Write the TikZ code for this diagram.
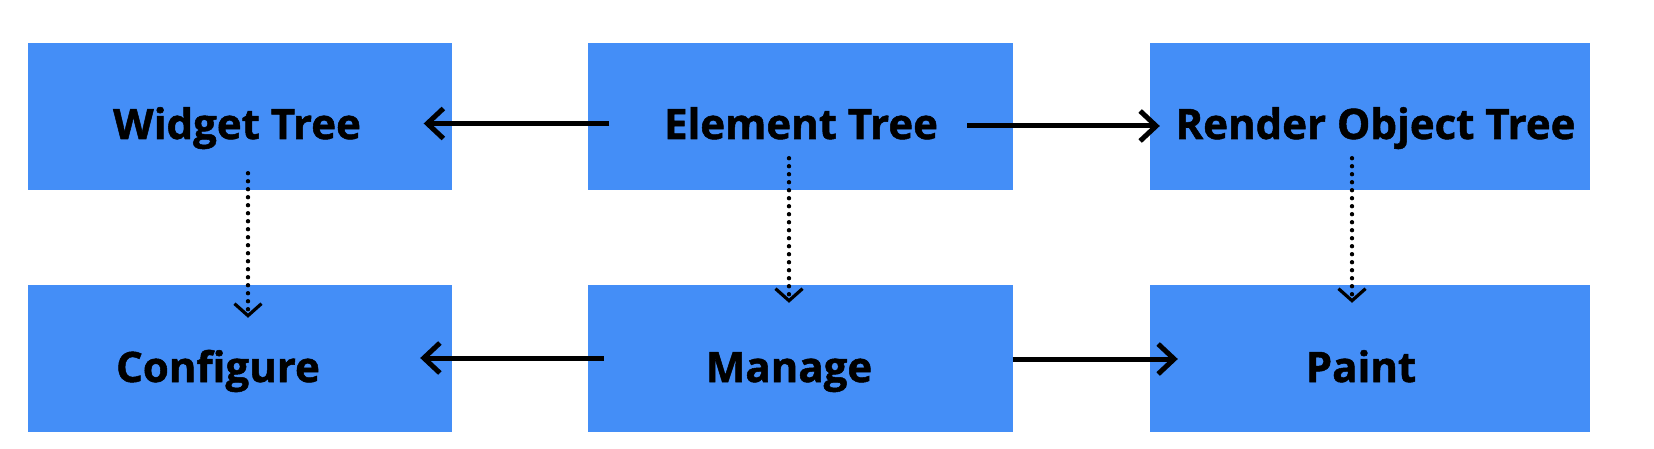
\documentclass[tikz,border=0pt]{standalone}
\usepackage{fontspec}
\newfontfamily\lblfont{Open Sans}[BoldFeatures={FakeBold=1.2}]
\usetikzlibrary{arrows.meta,calc}
\definecolor{boxblue}{HTML}{448EF7}
\begin{document}
\begin{tikzpicture}[x=1pt,y=-1pt,
  box/.style={fill=boxblue, draw=none, minimum width=#1, minimum height=147pt, inner sep=0pt},
  lbl/.style={font=\lblfont\bfseries\fontsize{42}{50}\selectfont, anchor=base, inner sep=0pt},
  flow/.style={line width=5pt, -{Straight Barb[length=16pt,width=30pt,line width=5pt]}},
  dep/.style={line width=4.4pt, line cap=round, dash pattern=on 0pt off 8pt, -{Straight Barb[length=12pt,width=27pt,line width=3.2pt]}}]
\useasboundingbox (0,0) rectangle (1654,449);
% boxes
\node[box=424pt] (wbox) at (239.5,116.5) {};
\node[box=425pt] (ebox) at (800,116.5) {};
\node[box=440pt] (rbox) at (1370,116.5) {};
\node[box=424pt] (cbox) at (239.5,358) {};
\node[box=425pt] (mbox) at (800,358) {};
\node[box=440pt] (pbox) at (1370,358) {};
% labels
\node[lbl] (wt) at (237,139) {Widget Tree};
\node[lbl] (et) at (801,139) {Element Tree};
\node[lbl] (rt) at (1375.5,139) {Render Object Tree};
\node[lbl] (ct) at (218,382) {Configure};
\node[lbl] (mt) at (789,382) {Manage};
\node[lbl] (pt) at (1361,382) {Paint};
% flow arrows
\draw[flow] ($(ebox.west)+(22,7)$) -- ($(wbox.east)+(-28,7)$);
\draw[flow] ($(ebox.east)+(-45.5,9.5)$) -- ($(rbox.west)+(10,9.5)$);
\draw[flow] ($(mbox.west)+(16.5,0)$) -- ($(cbox.east)+(-31.5,0)$);
\draw[flow] ($(mbox.east)+(0,1)$) -- ($(pbox.west)+(28,1)$);
% dependency arrows
\draw[dep] ($(wbox.south)+(8.5,-17)$) -- ($(cbox.north)+(8.5,33.5)$);
\draw[dep] ($(ebox.south)+(-11,-32)$) -- ($(mbox.north)+(-11,18.5)$);
\draw[dep] ($(rbox.south)+(-18,-32)$) -- ($(pbox.north)+(-18,18.5)$);
\end{tikzpicture}
\end{document}
